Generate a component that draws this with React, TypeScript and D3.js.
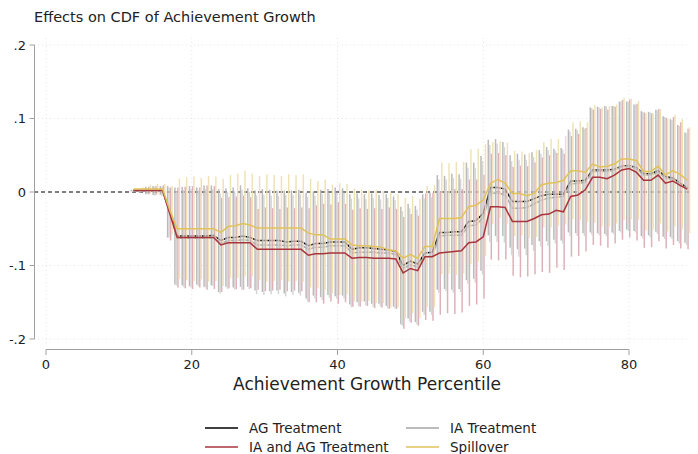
import React from "react";
import * as d3 from "d3";

// Percentiles 12..88
const percentiles: number[] = d3.range(12, 89);

const agTreatment: number[] = [
  0.002, 0.002, 0.002, 0.002, 0.002, -0.027,
  -0.060, -0.060, -0.060, -0.060, -0.060, -0.059, -0.066, -0.062, -0.062, -0.060, -0.062,
  -0.066, -0.066, -0.066, -0.066, -0.068, -0.067, -0.067,
  -0.073, -0.070, -0.070, -0.068, -0.068, -0.068, -0.078, -0.076, -0.076, -0.077, -0.078, -0.079, -0.081,
  -0.100, -0.094, -0.098, -0.083, -0.082,
  -0.055, -0.055, -0.054, -0.054, -0.040, -0.039, -0.029,
  0.006, 0.006, 0.004, -0.013, -0.013, -0.013,
  -0.009, -0.005, -0.003, -0.003, -0.003, 0.015, 0.015, 0.016,
  0.030, 0.030, 0.030, 0.031, 0.035, 0.036, 0.033, 0.025, 0.025, 0.029, 0.021, 0.019, 0.012, 0.006,
];

const iaTreatment: number[] = [
  0.001, 0.001, 0.001, 0.001, 0.001, -0.028,
  -0.063, -0.063, -0.063, -0.063, -0.063, -0.062, -0.070, -0.066, -0.066, -0.065, -0.066,
  -0.072, -0.072, -0.072, -0.072, -0.073, -0.072, -0.072,
  -0.078, -0.075, -0.075, -0.073, -0.073, -0.073, -0.083, -0.082, -0.082, -0.082, -0.083, -0.083, -0.085,
  -0.104, -0.099, -0.102, -0.088, -0.087,
  -0.060, -0.059, -0.059, -0.059, -0.046, -0.045, -0.035,
  -0.002, -0.001, -0.004, -0.022, -0.022, -0.021,
  -0.016, -0.011, -0.008, -0.007, -0.006, 0.011, 0.012, 0.013,
  0.028, 0.028, 0.028, 0.030, 0.034, 0.035, 0.032, 0.023, 0.023, 0.027, 0.019, 0.017, 0.010, 0.004,
];

const iaAgTreatment: number[] = [
  0.002, 0.002, 0.002, 0.002, 0.002, -0.030,
  -0.062, -0.062, -0.062, -0.062, -0.062, -0.062, -0.072, -0.069, -0.069, -0.069, -0.069,
  -0.078, -0.078, -0.078, -0.078, -0.078, -0.078, -0.078,
  -0.086, -0.084, -0.084, -0.083, -0.083, -0.083, -0.090, -0.089, -0.089, -0.090, -0.090, -0.090, -0.091,
  -0.110, -0.104, -0.107, -0.088, -0.088,
  -0.083, -0.082, -0.081, -0.080, -0.069, -0.068, -0.061,
  -0.020, -0.020, -0.021, -0.040, -0.040, -0.040,
  -0.036, -0.031, -0.030, -0.025, -0.027, -0.006, -0.004, 0.003,
  0.020, 0.020, 0.018, 0.023, 0.030, 0.032, 0.027, 0.016, 0.016, 0.023, 0.012, 0.015, 0.009, 0.004,
];

const spillover: number[] = [
  0.004, 0.004, 0.004, 0.004, 0.004, -0.025,
  -0.050, -0.050, -0.050, -0.050, -0.050, -0.050, -0.055, -0.047, -0.046, -0.043, -0.045,
  -0.049, -0.049, -0.049, -0.049, -0.049, -0.049, -0.049,
  -0.056, -0.058, -0.058, -0.064, -0.064, -0.064, -0.072, -0.073, -0.073, -0.074, -0.075, -0.079, -0.080,
  -0.090, -0.085, -0.090, -0.074, -0.074,
  -0.036, -0.036, -0.036, -0.035, -0.020, -0.018, -0.011,
  0.012, 0.017, 0.012, -0.002, -0.002, -0.005,
  -0.002, 0.010, 0.012, 0.013, 0.016, 0.029, 0.029, 0.027,
  0.038, 0.034, 0.035, 0.038, 0.045, 0.045, 0.043, 0.028, 0.028, 0.035, 0.023, 0.029, 0.024, 0.016,
];

// 95% CI half-widths
const agHalfWidth: number[] = [
  0.001, 0.002, 0.005, 0.006, 0.006, 0.035,
  0.066, 0.067, 0.068, 0.066, 0.069, 0.068, 0.070, 0.067, 0.068, 0.069, 0.067, 0.068, 0.070, 0.069, 0.068, 0.070, 0.069, 0.070,
  0.072, 0.071, 0.073, 0.072, 0.074, 0.073, 0.075, 0.074, 0.073, 0.075, 0.074, 0.076, 0.075,
  0.080, 0.078, 0.079, 0.080, 0.081,
  0.078, 0.077, 0.079, 0.078, 0.080, 0.079, 0.078,
  0.065, 0.066, 0.064, 0.063, 0.065, 0.064,
  0.063, 0.062, 0.064, 0.062, 0.063, 0.070, 0.071, 0.072,
  0.085, 0.086, 0.087, 0.086, 0.088, 0.087, 0.086, 0.085, 0.084, 0.083, 0.082, 0.080, 0.079, 0.075,
];

const iaHalfWidth: number[] = [
  0.001, 0.002, 0.004, 0.006, 0.006, 0.034,
  0.064, 0.066, 0.067, 0.065, 0.067, 0.066, 0.068, 0.066, 0.067, 0.068, 0.066, 0.067, 0.068, 0.067, 0.067, 0.069, 0.068, 0.069,
  0.071, 0.070, 0.072, 0.071, 0.072, 0.072, 0.074, 0.073, 0.072, 0.074, 0.073, 0.075, 0.074,
  0.078, 0.077, 0.078, 0.079, 0.080,
  0.077, 0.076, 0.078, 0.077, 0.079, 0.078, 0.077,
  0.066, 0.067, 0.065, 0.064, 0.066, 0.065,
  0.064, 0.063, 0.065, 0.063, 0.064, 0.071, 0.072, 0.073,
  0.086, 0.087, 0.088, 0.087, 0.089, 0.088, 0.087, 0.086, 0.085, 0.084, 0.083, 0.081, 0.080, 0.076,
];

const iaAgHalfWidth: number[] = [
  0.001, 0.002, 0.005, 0.006, 0.007, 0.036,
  0.068, 0.069, 0.070, 0.068, 0.071, 0.070, 0.064, 0.062, 0.063, 0.064, 0.062, 0.055, 0.057, 0.056, 0.055, 0.057, 0.056, 0.057,
  0.064, 0.066, 0.068, 0.066, 0.069, 0.067, 0.066, 0.067, 0.066, 0.068, 0.067, 0.069, 0.068,
  0.076, 0.074, 0.075, 0.086, 0.087,
  0.084, 0.083, 0.085, 0.084, 0.086, 0.085, 0.084,
  0.072, 0.073, 0.071, 0.074, 0.076, 0.075,
  0.076, 0.078, 0.080, 0.078, 0.079, 0.082, 0.083, 0.084,
  0.092, 0.093, 0.094, 0.093, 0.095, 0.094, 0.093, 0.092, 0.091, 0.090, 0.089, 0.087, 0.086, 0.082,
];

const spilloverHalfWidth: number[] = [
  0.001, 0.002, 0.006, 0.007, 0.007, 0.033,
  0.068, 0.070, 0.071, 0.069, 0.072, 0.071, 0.073, 0.070, 0.071, 0.072, 0.070, 0.071, 0.073, 0.072, 0.071, 0.073, 0.072, 0.073,
  0.074, 0.073, 0.075, 0.074, 0.076, 0.075, 0.077, 0.076, 0.075, 0.077, 0.076, 0.078, 0.077,
  0.082, 0.080, 0.081, 0.082, 0.083,
  0.076, 0.075, 0.077, 0.076, 0.078, 0.077, 0.076,
  0.056, 0.052, 0.055, 0.058, 0.057, 0.058,
  0.059, 0.058, 0.060, 0.059, 0.060, 0.066, 0.067, 0.068,
  0.080, 0.081, 0.082, 0.081, 0.083, 0.082, 0.081, 0.080, 0.079, 0.078, 0.077, 0.076, 0.075, 0.072,
];

const xTicks: number[] = [0, 20, 40, 60, 80];
const yTicks: number[] = [0.2, 0.1, 0, -0.1, -0.2];
const yTickLabels: string[] = [".2", ".1", "0", "-.1", "-.2"];

const seriesNames: string[] = ["AG Treatment", "IA Treatment", "IA and AG Treatment", "Spillover"];
const lineColors: string[] = ["#000000", "#a6a6a6", "#a8343c", "#e0c25a"];
const ciColors: string[] = ["#b3b3b3", "#d2d2d2", "#d9a9b0", "#eedfae"];
const ciOffsets: number[] = [-2.25, -0.75, 0.75, 2.25];

const FONT = "DejaVu Sans, Verdana, sans-serif";

export default function App() {
  const W = 698;
  const H = 454;
  const x = d3.scaleLinear().domain([0, 80]).range([46, 629]);
  const y = d3.scaleLinear().domain([-0.2, 0.2]).range([339, 45]);
  const plotLeft = 34;
  const plotRight = 690;
  const plotTop = 38;
  const plotBottom = 345;

  const values = [agTreatment, iaTreatment, iaAgTreatment, spillover];
  const halfWidths = [agHalfWidth, iaHalfWidth, iaAgHalfWidth, spilloverHalfWidth];

  const lineGen = d3
    .line<number>()
    .x((_, i) => x(percentiles[i]))
    .y((d) => y(d));

  const ciBars = (s: number) =>
    percentiles.map((p, i) => {
      const v = values[s][i];
      const h = halfWidths[s][i];
      const xx = x(p) + ciOffsets[s];
      return (
        <line
          key={`ci-${s}-${i}`}
          x1={xx}
          x2={xx}
          y1={y(v + h)}
          y2={y(v - h)}
          stroke={ciColors[s]}
          strokeWidth={1.5}
          strokeOpacity={0.9}
        />
      );
    });

  const legendItems = [
    { s: 0, lx: 205, ly: 428 },
    { s: 1, lx: 406, ly: 428 },
    { s: 2, lx: 205, ly: 447 },
    { s: 3, lx: 406, ly: 447 },
  ];

  return (
    <svg
      width={W}
      height={H}
      style={{ position: "absolute", left: 0, top: 0, background: "#fff" }}
      fontFamily={FONT}
    >
      <rect x={0} y={0} width={W} height={H} fill="#ffffff" />
      <text x={34} y={22} fontSize={14.5} fill="#222">
        Effects on CDF of Achievement Growth
      </text>

      {/* gridlines */}
      {yTicks.map((t) => (
        <line
          key={`gy-${t}`}
          x1={plotLeft}
          x2={plotRight}
          y1={y(t)}
          y2={y(t)}
          stroke="#e4e4e4"
          strokeWidth={1}
          strokeDasharray="1,3"
        />
      ))}
      {xTicks.map((t) => (
        <line
          key={`gx-${t}`}
          x1={x(t)}
          x2={x(t)}
          y1={plotTop}
          y2={plotBottom}
          stroke="#e4e4e4"
          strokeWidth={1}
          strokeDasharray="1,3"
        />
      ))}

      {/* zero reference line */}
      <line
        x1={plotLeft}
        x2={plotRight}
        y1={y(0)}
        y2={y(0)}
        stroke="#000"
        strokeWidth={1}
        strokeDasharray="4,3"
      />

      {/* lines under the CI bars */}
      <path d={lineGen(agTreatment) || ""} fill="none" stroke={lineColors[0]} strokeWidth={1.5} />
      <path d={lineGen(iaTreatment) || ""} fill="none" stroke={lineColors[1]} strokeWidth={1.5} />

      {/* CI bars */}
      {ciBars(2)}
      {ciBars(0)}
      {ciBars(1)}
      {ciBars(3)}

      {/* lines over the bars */}
      <path d={lineGen(iaAgTreatment) || ""} fill="none" stroke={lineColors[2]} strokeWidth={1.5} />
      <path d={lineGen(spillover) || ""} fill="none" stroke={lineColors[3]} strokeWidth={1.5} />

      {/* y axis */}
      <line x1={34.5} x2={34.5} y1={y(0.2)} y2={y(-0.2)} stroke="#a0a0a0" strokeWidth={1} />
      {yTicks.map((t, i) => (
        <g key={`yt-${t}`}>
          <line x1={29.5} x2={34.5} y1={y(t)} y2={y(t)} stroke="#a0a0a0" strokeWidth={1} />
          <text
            x={26}
            y={y(t)}
            dy="0.35em"
            textAnchor="end"
            fontSize={13}
            fill="#222"
          >
            {yTickLabels[i]}
          </text>
        </g>
      ))}

      {/* x axis */}
      <line x1={x(0)} x2={x(80)} y1={349.5} y2={349.5} stroke="#a0a0a0" strokeWidth={1} />
      {xTicks.map((t) => (
        <g key={`xt-${t}`}>
          <line x1={x(t)} x2={x(t)} y1={349.5} y2={355} stroke="#a0a0a0" strokeWidth={1} />
          <text x={x(t)} y={369} textAnchor="middle" fontSize={13} fill="#222">
            {t}
          </text>
        </g>
      ))}
      <text x={367} y={390} textAnchor="middle" fontSize={17} fill="#222">
        Achievement Growth Percentile
      </text>

      {/* legend */}
      {legendItems.map(({ s, lx, ly }) => (
        <g key={`lg-${s}`}>
          <line x1={lx} x2={lx + 33} y1={ly} y2={ly} stroke={lineColors[s]} strokeWidth={1.5} />
          <text x={lx + 44} y={ly} dy="0.35em" fontSize={13.5} fill="#222">
            {seriesNames[s]}
          </text>
        </g>
      ))}
    </svg>
  );
}
